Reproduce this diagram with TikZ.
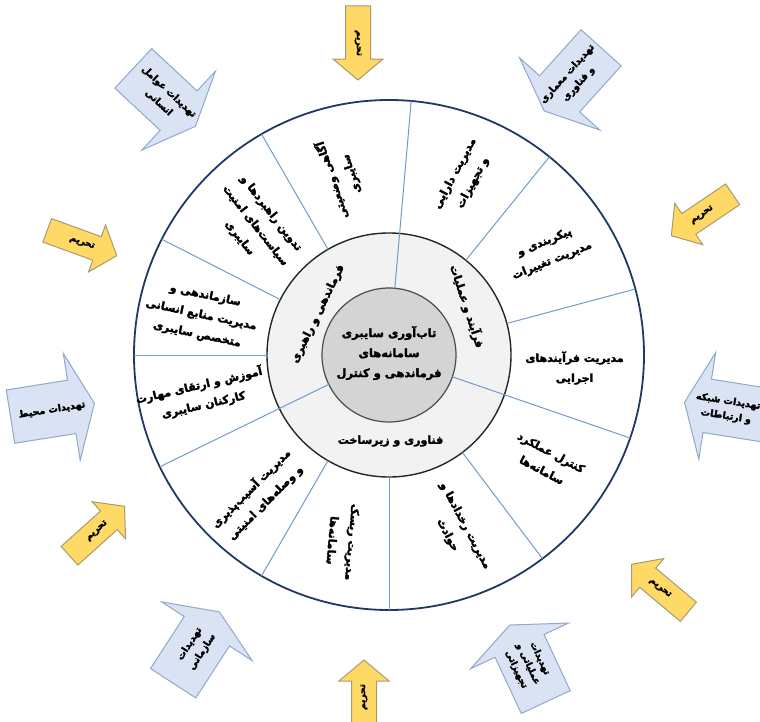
\documentclass[tikz,border=0pt]{standalone}
\usepackage{fontspec}
\newfontfamily\arabicfont[Script=Arabic, BoldFeatures={FakeBold=2.5}]{DejaVu Sans}
\TeXXeTstate=1
\newcommand{\fa}[1]{\beginR #1\endR}
\definecolor{ringgray}{HTML}{F2F2F2}
\definecolor{coregray}{HTML}{D4D4D4}
\definecolor{navy}{HTML}{1F3864}
\definecolor{divblue}{HTML}{6F9CCD}
\definecolor{threatfill}{HTML}{DAE3F3}
\definecolor{threatdraw}{HTML}{8FA9CB}
\definecolor{sanctionfill}{HTML}{FFD966}
\definecolor{sanctiondraw}{HTML}{A89A70}
\tikzset{
  threat/.pic = {\path [draw = threatdraw, fill = threatfill, line width = 1pt]
    (-42, -27) -- (20, -27) -- (20, -54) -- (43, 0) -- (20, 54) -- (20, 27) -- (-42, 27) -- cycle;},
  sanction/.pic = {\path [draw = sanctiondraw, fill = sanctionfill, line width = 1pt]
    (-37, -12.5) -- (16, -12.5) -- (16, -25) -- (37, 0) -- (16, 25) -- (16, 12.5) -- (-37, 12.5) -- cycle;}
}
\begin{document}
\begin{tikzpicture}[x = 1pt, y = 1pt,
    every node/.style = {inner sep = 0pt, outer sep = 0pt},
    sector/.style = {align = center, font = \arabicfont\bfseries\fontsize{11}{20}\selectfont},
    threat text/.style = {align = center, font = \arabicfont\bfseries\fontsize{9.5}{15}\selectfont},
    sanction text/.style = {font = \arabicfont\bfseries\fontsize{9}{11}\selectfont},
    divider/.style = {draw = divblue, line width = 1pt}]
  \useasboundingbox (-389, -366) rectangle (371, 355);
  %circles
  \node[circle, draw = navy, line width = 1.8pt, fill = white, minimum size = 510] (outer) at (0, 0) {};
  \node[circle, draw = black!85, line width = 1.4pt, fill = ringgray, minimum size = 244] (mid) at (0, 0) {};
  \node[circle, draw = black!70, line width = 1.2pt, fill = coregray, minimum size = 134] (core) at (0, 0) {};
  %dividers
  \path [divider] (core.85) to (outer.85);
  \path [divider] (core.206) to (outer.206);
  \path [divider] (core.341) to (outer.341);
  \path [divider] (mid.15) to (outer.15);
  \path [divider] (mid.51) to (outer.51);
  \path [divider] (mid.120) to (outer.120);
  \path [divider] (mid.153) to (outer.153);
  \path [divider] (mid.180) to (outer.180);
  \path [divider] (mid.240) to (outer.240);
  \path [divider] (mid.270) to (outer.270);
  \path [divider] (mid.307) to (outer.307);
  %center and branches
  \node[sector, font = \arabicfont\bfseries\fontsize{11.5}{20}\selectfont] (title) at (0, 2)
    {\fa{تاب‌آوری سایبری}\\\fa{سامانه‌های}\\\fa{فرماندهی و کنترل}};
  \begin{scope}[every node/.style = {sector}]
    \node[rotate = -72] (operation) at (32:92) {\fa{فرآیند و عملیات}};
    \node[rotate = 64] (command) at (150:82) {\fa{فرماندهی و راهبری}};
    \node (technology) at (271:86) {\fa{فناوری و زیرساخت}};
  \end{scope}
  %sectors
  \begin{scope}[every node/.style = {sector}]
    \node (executive) at (-4:186) {\fa{مدیریت فرآیندهای}\\\fa{اجرایی}};
    \node[rotate = 22] (config) at (33:190) {\fa{پیکربندی و}\\\fa{مدیریت تغییرات}};
    \node[rotate = 62] (asset) at (67:192) {\fa{مدیریت دارایی}\\\fa{و تجهیزات}};
    \node[rotate = 108] (awareness) at (105:184) {\fa{آگاهی وضعیتی}\\\fa{سایبری}};
    \node[rotate = -52] (policy) at (136:186) {\fa{تدوین راهبردها و}\\\fa{سیاست‌های امنیت}\\\fa{سایبری}};
    \node[rotate = -12] (staff) at (168:192) {\fa{سازماندهی و}\\\fa{مدیریت منابع انسانی}\\\fa{متخصص سایبری}};
    \node[rotate = 13] (training) at (192:192) {\fa{آموزش و ارتقای مهارت}\\\fa{کارکنان سایبری}};
    \node[rotate = 45] (patch) at (227:192) {\fa{مدیریت آسیب‌پذیری}\\\fa{و وصله‌های امنیتی}};
    \node[rotate = -95] (risk) at (256:192) {\fa{مدیریت ریسک}\\\fa{سامانه‌ها}};
    \node[rotate = -62] (incident) at (291:188) {\fa{مدیریت رخدادها و}\\\fa{حوادث}};
    \node[rotate = -28] (monitor) at (326:190) {\fa{کنترل عملکرد}\\\fa{سامانه‌ها}};
  \end{scope}
  %threats
  \pic[rotate = -43] at (-225, 258) {threat};
  \pic[rotate = 228] at (184, 276) {threat};
  \pic[rotate = 171] at (338, -54) {threat};
  \pic[rotate = 9] at (-337, -55) {threat};
  \pic[rotate = 57] at (-193, -293) {threat};
  \pic[rotate = 115] at (139, -309) {threat};
  \begin{scope}[every node/.style = {threat text}]
    \node[rotate = -43] (human) at (-225, 258) {\fa{تهدیدات عوامل}\\\fa{انسانی}};
    \node[rotate = 48] (architecture) at (184, 276) {\fa{تهدیدات معماری}\\\fa{و فناوری}};
    \node[rotate = -9] (network) at (338, -54) {\fa{تهدیدات شبکه}\\\fa{و ارتباطات}};
    \node[rotate = 9] (environment) at (-337, -55) {\fa{تهدیدات محیط}};
    \node[rotate = 57] (organization) at (-193, -293) {\fa{تهدیدات}\\\fa{سازمانی}};
    \node[rotate = -65, font = \arabicfont\bfseries\fontsize{9}{13}\selectfont] (equipment) at (139, -309)
      {\fa{تهدیدات}\\\fa{عملیاتی و}\\\fa{تجهیزاتی}};
  \end{scope}
  %sanctions
  \pic[rotate = -90] at (-31, 312) {sanction};
  \pic[rotate = 214] at (313, 140) {sanction};
  \pic[rotate = -20] at (-307, 112) {sanction};
  \pic[rotate = 42] at (-292, -176) {sanction};
  \pic[rotate = 140] at (271, -233) {sanction};
  \pic[rotate = 90] at (-25, -342) {sanction};
  \begin{scope}[every node/.style = {sanction text}]
    \node[rotate = -90] (s1) at (-31, 312) {\fa{تحریم}};
    \node[rotate = 34] (s2) at (313, 140) {\fa{تحریم}};
    \node[rotate = -20] (s3) at (-307, 112) {\fa{تحریم}};
    \node[rotate = 42] (s4) at (-292, -176) {\fa{تحریم}};
    \node[rotate = -40] (s5) at (271, -233) {\fa{تحریم}};
    \node[rotate = 90] (s6) at (-25, -342) {\fa{تحریم}};
  \end{scope}
\end{tikzpicture}
\end{document}
